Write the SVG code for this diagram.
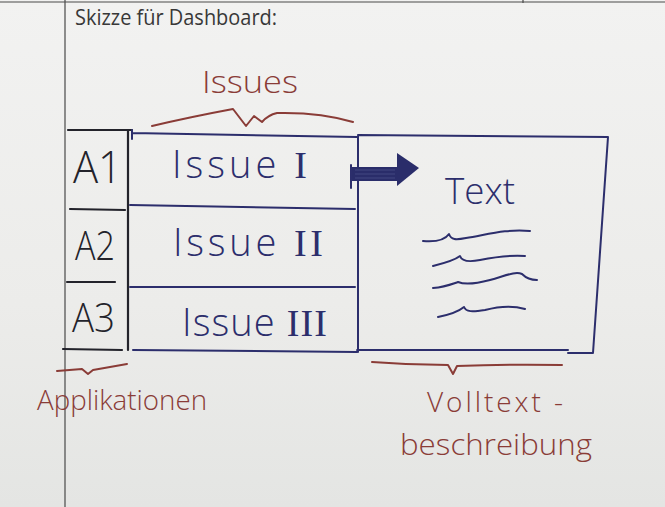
<svg xmlns="http://www.w3.org/2000/svg" width="665" height="507" viewBox="0 0 665 507">
  <style>
    .blue { fill: none; stroke: #2c2e6c; stroke-width: 2; stroke-linecap: round; stroke-linejoin: round; }
    .black { fill: none; stroke: #23232b; stroke-width: 2.2; stroke-linecap: round; }
    .brown { fill: none; stroke: #8a3c37; stroke-width: 2; stroke-linecap: round; stroke-linejoin: round; }
    .page { fill: none; stroke: #4a4a4a; stroke-width: 1.2; }
    .hand-blue { font-family: "Open Sans", "Liberation Sans", sans-serif; font-weight: 300; fill: #2c2e6c; }
    .hand-black { font-family: "Open Sans", "Liberation Sans", sans-serif; font-weight: 300; fill: #23232b; }
    .hand-brown { font-family: "Open Sans", "Liberation Sans", sans-serif; font-weight: 300; fill: #8a3c37; }
    .num { font-family: "Liberation Serif", serif; }
    .title { font-family: "Open Sans", "Liberation Sans", Arial, sans-serif; font-size: 21px; fill: #383838; }
  </style>
  <defs>
    <linearGradient id="paper" x1="0" y1="0" x2="0" y2="1">
      <stop offset="0" stop-color="#f2f2f1"/>
      <stop offset="0.6" stop-color="#ececea"/>
      <stop offset="1" stop-color="#e4e5e3"/>
    </linearGradient>
  </defs>

  <rect id="background" x="0" y="0" width="665" height="507" fill="url(#paper)"/>

  <g id="page-frame">
    <path class="page" d="M0,2 L665,2 M523,0 L523,3 M65,0 L65,507"/>
    <text class="title" x="75" y="25" textLength="202" lengthAdjust="spacingAndGlyphs">Skizze für Dashboard:</text>
  </g>

  <g id="applications-column">
    <path class="black" d="M68,130 L132,130 M128,130 L128,350"/>
    <g id="app-a1">
      <text class="hand-black" x="73" y="183" font-size="44" textLength="49" lengthAdjust="spacingAndGlyphs">A1</text>
      <path class="black" d="M70,209 L125,210"/>
    </g>
    <g id="app-a2">
      <text class="hand-black" x="75" y="260" font-size="40" textLength="40" lengthAdjust="spacingAndGlyphs">A2</text>
      <path class="black" d="M67,282 L115,282"/>
    </g>
    <g id="app-a3">
      <text class="hand-black" x="72" y="332" font-size="40" textLength="43" lengthAdjust="spacingAndGlyphs">A3</text>
      <path class="black" d="M63,349 L122,350"/>
    </g>
  </g>

  <g id="issues-column">
    <path class="blue" d="M132,133 L357,137 M132,130 L132,139"/>
    <g id="issue-1">
      <text class="hand-blue" x="172" y="178" font-size="38" textLength="135" lengthAdjust="spacing">Issue <tspan class="num">I</tspan></text>
      <path class="blue" d="M130,205 L355,209"/>
    </g>
    <g id="issue-2">
      <text class="hand-blue" x="173" y="256" font-size="38" textLength="150" lengthAdjust="spacing">Issue <tspan class="num">II</tspan></text>
      <path class="blue" d="M130,287 L355,287"/>
    </g>
    <g id="issue-3">
      <text class="hand-blue" x="182" y="336" font-size="38" textLength="145" lengthAdjust="spacing">Issue <tspan class="num">III</tspan></text>
      <path class="blue" d="M133,350 L357,352"/>
    </g>
  </g>

  <g id="detail-box">
    <path class="blue" d="M358,135 L608,137 L593,353 L568,353 M568,350 L357,350 M358,136 L358,352"/>
    <text class="hand-blue" x="445" y="204" font-size="36" textLength="70" lengthAdjust="spacingAndGlyphs">Text</text>
    <path class="blue" d="M423,241 C435,242 445,240 449,234 C451,240 456,240 466,238 C490,234 506,229 530,231"/>
    <path class="blue" d="M433,266 C445,263 455,260 460,256 C462,262 470,262 480,260 C500,256 510,255 525,256"/>
    <path class="blue" d="M433,288 C445,287 452,284 458,282 C465,285 475,284 490,280 C505,276 515,271 522,274 C526,278 530,280 537,280"/>
    <path class="blue" d="M438,317 C448,315 458,312 464,307 C466,312 472,312 485,310 C500,306 515,306 525,309"/>
  </g>

  <g id="connectors">
    <g id="arrow-issue-to-text">
      <rect x="351" y="167" width="47" height="14" fill="#2a2d6a"/>
      <path d="M355,170 L395,170 M355,174 L395,174 M355,178 L395,178" stroke="#4a4e88" stroke-width="0.8" fill="none"/>
      <path class="blue" d="M351,165 L351,188"/>
      <polygon points="397,153 419,168 397,186" fill="#2a2d6a"/>
    </g>
  </g>

  <g id="annotation-issues">
    <text class="hand-brown" x="202" y="93" font-size="32" textLength="96" lengthAdjust="spacingAndGlyphs">Issues</text>
    <path class="brown" d="M152,126 Q190,117 233,109 L246,126 L254,116 L262,122 Q268,115 277,113 Q320,112 353,122"/>
  </g>

  <g id="annotation-applications">
    <path class="brown" d="M57,371 L82,369 L88,374 L93,370 L127,364"/>
    <text class="hand-brown" x="37" y="410" font-size="28" textLength="170" lengthAdjust="spacingAndGlyphs">Applikationen</text>
  </g>

  <g id="annotation-fulltext">
    <path class="brown" d="M372,362 Q410,365 448,365 L453,374 L457,366 Q510,364 562,365"/>
    <text class="hand-brown" x="427" y="412" font-size="28" textLength="136" lengthAdjust="spacing">Volltext -</text>
    <text class="hand-brown" x="400" y="455" font-size="30" textLength="192" lengthAdjust="spacingAndGlyphs">beschreibung</text>
  </g>
</svg>
